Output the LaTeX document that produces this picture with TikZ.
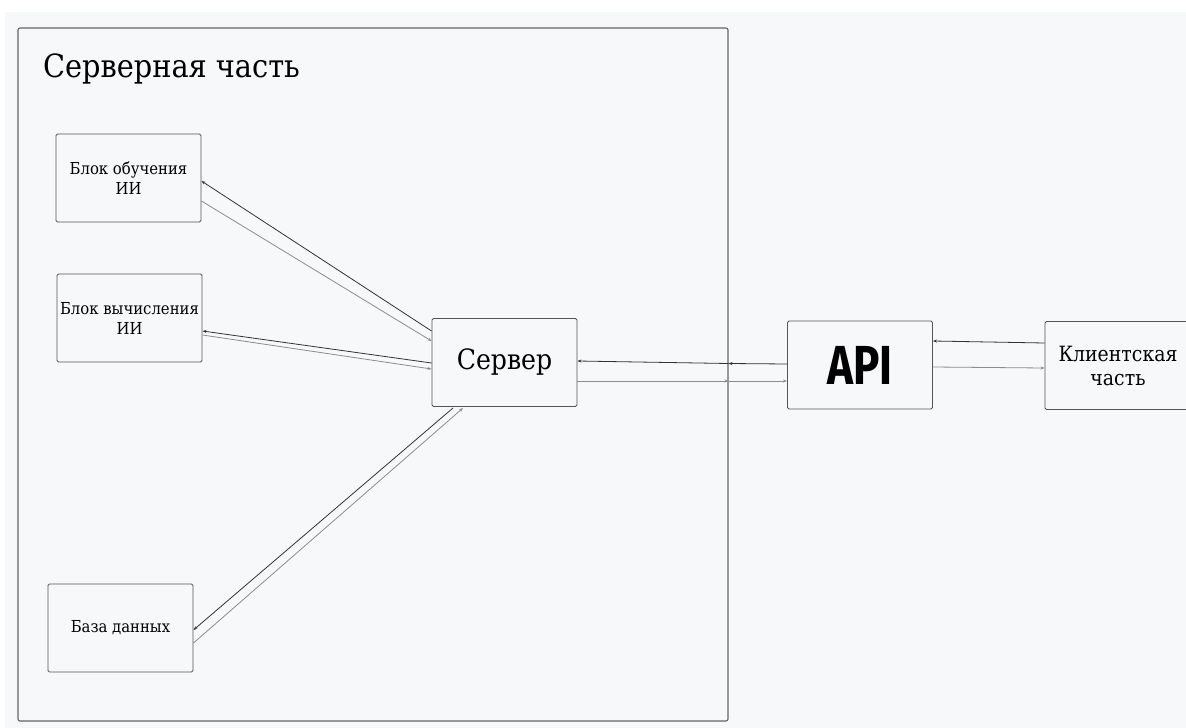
\documentclass[tikz,border=0pt]{standalone}
\usepackage{fontspec}
\setmainfont{DejaVu Serif Condensed}
\newfontfamily\labelfont{DejaVu Serif Condensed}
\newfontfamily\apifont{Fira Sans}
\usetikzlibrary{arrows.meta}
\definecolor{canvas}{HTML}{F7F8FA}
\definecolor{edge}{HTML}{555555}
\tikzset{
  every node/.style={font=\labelfont},
  box/.style={draw=edge, line width=0.9pt, rounded corners=1.5pt, fill=canvas,
    minimum width=145pt, minimum height=88pt, align=center, inner sep=0pt},
  small/.style={font=\labelfont\fontsize{16.5}{20}\selectfont},
  tip/.style={-{Stealth[length=4pt,width=3pt]}},
  dark/.style={tip, draw=black!80, line width=0.8pt},
  light/.style={tip, draw=black!45, line width=0.8pt},
}
\begin{document}
\begin{tikzpicture}[x=1pt, y=-1pt]
  \useasboundingbox (0,0) rectangle (1186,728);
  \fill[white] (0,0) rectangle (1186,728);
  \fill[canvas] (5,12) rectangle (1186,728);

  % server-side frame
  \draw[draw=black!60, line width=1.1pt, rounded corners=2pt] (18,28) rectangle (728,721);
  \node[anchor=base west, font=\labelfont\fontsize{32}{36}\selectfont, inner sep=0pt] (title) at (43,77) {Серверная часть};

  % blocks
  \node[box, small] (train) at (128.5,178) {Блок обучения\\ИИ};
  \node[box, small] (calc) at (129.5,318) {Блок вычисления\\ИИ};
  \node[box, small] (db) at (120.5,628) {База данных};
  \node[box, font=\labelfont\fontsize{28}{34}\selectfont] (srv) at (504.5,362.5) {Сервер};
  \node[box, font=\apifont\bfseries\fontsize{55}{60}\selectfont] (api) at (860,365) {\scalebox{0.8}[1]{API}};
  \node[box, font=\labelfont\fontsize{21}{24}\selectfont, minimum width=146pt] (client) at (1118,365.5) {Клиентская\\часть};

  % points where the links cross the frame
  \coordinate (fin) at (728.5,363.5);
  \coordinate (fout) at (728.5,381);

  % links inside the server side
  \draw[dark] (srv.west |- 0,331) -- (train.east |- 0,181);
  \draw[light] (train.east |- 0,201) -- (srv.west |- 0,341);
  \draw[dark] (srv.west |- 0,363) -- (calc.east |- 0,331);
  \draw[light] (calc.east |- 0,335) -- (srv.west |- 0,369);
  \draw[dark] (453,408) -- (db.east |- 0,630);
  \draw[light] (db.east |- 0,643) -- (463,408);

  % links between server, API and client
  \draw[dark] (api.west |- 0,364) -- (fin);
  \draw[dark] (fin) -- (srv.east |- 0,361);
  \draw[light] (srv.east |- 0,381) -- (fout);
  \draw[light] (fout) -- (api.west |- 0,381);
  \draw[dark] (client.west |- 0,343) -- (api.east |- 0,341);
  \draw[light] (api.east |- 0,367) -- (client.west |- 0,368);
\end{tikzpicture}
\end{document}
